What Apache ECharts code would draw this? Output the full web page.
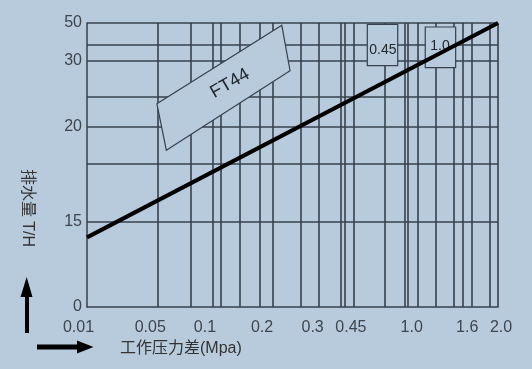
<!DOCTYPE html>
<html><head><meta charset="utf-8">
<script src="https://cdn.jsdelivr.net/npm/echarts@6/dist/echarts.min.js"></script>
<style>html,body{margin:0;padding:0;background:#b8cbdd}#c{width:532px;height:369px}</style>
</head><body><div id="c"></div>
<script>
// Pressure axis (MPa): printed tick values, their labels and their place on the printed (hand-drawn) scale, % of axis length
const pressureTicks = [0.01, 0.05, 0.1, 0.2, 0.3, 0.45, 1.0, 1.6, 2.0];
const pressureLabels = ['0.01', '0.05', '0.1', '0.2', '0.3', '0.45', '1.0', '1.6', '2.0'];
const pressureScale = [0, 15.4, 28.7, 42.6, 54.9, 64.2, 79.0, 92.5, 100];
// Flow axis (T/H)
const flowTicks = [0, 15, 20, 30, 50];
const flowLabels = ['0', '15', '20', '30', '50'];
const flowScale = [0, 29.9, 63.6, 86.6, 100];
// FT44 capacity curve
const curvePressure = [0.01, 2.0];
const curveFlow = [12.3, 50];
// printed grid lines, on the printed scale (%)
const xGridScale = [17.3, 25.3, 30.7, 32.6, 37.2, 42.1, 45.3, 51.9, 56.3, 61.8, 62.8, 65.0, 72.5, 77.2, 78.1, 80.4, 84.9, 89.2, 91.4, 93.6, 97.9, 100];
const yGridScale = [29.9, 50.5, 63.6, 73.9, 86.6, 92.4, 100];
// annotation labels
const annotationTexts = ['FT44', '0.45', '1.0'];

const BG = '#b8cbdd';
const LINE = '#36414d';
const TXT = '#3e454e';
const FONT = '"Liberation Sans", Arial, "Noto Sans CJK SC", sans-serif';

function warp(v, ticks, scale) {
  for (let i = 0; i < ticks.length - 1; i++) {
    if (v <= ticks[i + 1] || i === ticks.length - 2) {
      const t = (v - ticks[i]) / (ticks[i + 1] - ticks[i]);
      return scale[i] + t * (scale[i + 1] - scale[i]);
    }
  }
  return scale[scale.length - 1];
}
function idxOf(arr, v) { return arr.findIndex(a => Math.abs(a - v) < 1e-6); }

const annotations = [
  { pts: [[17.0, 71.6], [47.4, 99.2], [49.4, 83.2], [19.3, 55.2]], at: [34.8, 78.7], rot: 30, size: 18 },
  { pts: [[68.2, 99.5], [75.6, 99.5], [75.6, 85.0], [68.2, 85.0]], at: [72.0, 90.3], rot: 0, size: 14 },
  { pts: [[82.3, 98.6], [89.7, 98.6], [89.7, 84.3], [82.3, 84.3]], at: [85.9, 91.8], rot: 0, size: 14 }
];

const chart = echarts.init(document.getElementById('c'), null, { renderer: 'canvas' });
const option = {
  backgroundColor: BG,
  animation: false,
  grid: { left: 87, top: 23, width: 411, height: 284 },
  xAxis: {
    type: 'value', min: 0, max: 100,
    splitLine: { show: false },
    axisTick: { show: false },
    axisLine: { show: true, lineStyle: { color: LINE, width: 1.5 } },
    axisLabel: {
      customValues: pressureScale,
      margin: 12,
      color: TXT, fontSize: 16, fontFamily: FONT,
      formatter: function (v) {
        const i = idxOf(pressureScale, v);
        const s = i >= 0 ? pressureLabels[i] : '';
        if (i === 0) return '{f|' + s + '}';
        if (i === pressureScale.length - 1) return '{l|' + s + '}';
        return '{n|' + s + '}';
      },
      rich: {
        f: { fontSize: 16, color: TXT, fontFamily: FONT, padding: [0, 17, 0, 0], lineHeight: 18 },
        l: { fontSize: 16, color: TXT, fontFamily: FONT, padding: [0, 0, 0, 6], lineHeight: 18 },
        n: { fontSize: 16, color: TXT, fontFamily: FONT, lineHeight: 18 }
      }
    }
  },
  yAxis: {
    type: 'value', min: 0, max: 100,
    splitLine: { show: false },
    axisTick: { show: false },
    axisLine: { show: true, lineStyle: { color: LINE, width: 1.5 } },
    axisLabel: {
      customValues: flowScale,
      margin: 5,
      color: TXT, fontSize: 16, fontFamily: FONT,
      formatter: function (v) {
        const i = idxOf(flowScale, v);
        return i >= 0 ? flowLabels[i] : '';
      }
    }
  },
  series: [
    {
      type: 'line', data: [], silent: true, z: 1,
      markLine: {
        silent: true, symbol: ['none', 'none'], animation: false, z: 1,
        label: { show: false },
        lineStyle: { color: LINE, width: 1.6, type: 'solid' },
        emphasis: { disabled: true },
        data: xGridScale.map(v => ({ xAxis: v })).concat(yGridScale.map(v => ({ yAxis: v })))
      }
    },
    {
      type: 'custom', z: 10, silent: true, clip: false,
      data: annotations.map(a => a.at),
      renderItem: function (params, api) {
        const a = annotations[params.dataIndex];
        const pts = a.pts.map(p => api.coord(p));
        const c = api.coord(a.at);
        return {
          type: 'group',
          children: [
            { type: 'polygon', shape: { points: pts }, style: { fill: BG, stroke: LINE, lineWidth: 1.2 } },
            {
              type: 'text', x: c[0], y: c[1], rotation: a.rot * Math.PI / 180,
              style: { text: annotationTexts[params.dataIndex], fill: '#22282e', fontSize: a.size, fontFamily: FONT, align: 'center', verticalAlign: 'middle' }
            }
          ]
        };
      }
    },
    {
      type: 'line', z: 12, symbol: 'none', silent: true,
      data: curvePressure.map((p, i) => [warp(p, pressureTicks, pressureScale), warp(curveFlow[i], flowTicks, flowScale)]),
      lineStyle: { color: '#000', width: 4 }
    }
  ],
  graphic: [
    { type: 'text', x: 27, y: 208, rotation: -Math.PI / 2, style: { text: '排水量 T/H', fill: '#333', fontSize: 16, fontFamily: FONT, align: 'center', verticalAlign: 'middle' } },
    { type: 'text', x: 120, y: 349, style: { text: '工作压力差(Mpa)', fill: '#333', fontSize: 16, fontFamily: FONT, align: 'left', verticalAlign: 'middle' } },
    { type: 'rect', shape: { x: 25, y: 292, width: 4, height: 41 }, style: { fill: '#000' } },
    { type: 'polygon', shape: { points: [[20.5, 297], [32.5, 297], [26.7, 277]] }, style: { fill: '#000' } },
    { type: 'rect', shape: { x: 37, y: 344.5, width: 43, height: 5 }, style: { fill: '#000' } },
    { type: 'polygon', shape: { points: [[77, 340.5], [77, 353.5], [93.5, 347]] }, style: { fill: '#000' } }
  ]
};
chart.setOption(option);
</script>
</body></html>
